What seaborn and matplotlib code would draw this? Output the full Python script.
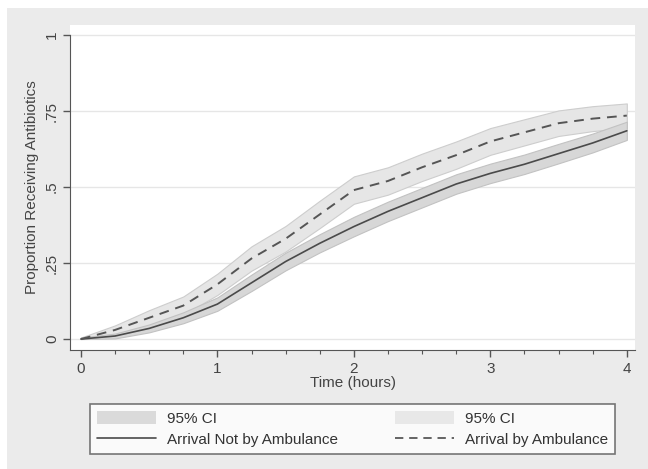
import pandas as pd
import seaborn as sns
import matplotlib.pyplot as plt
from matplotlib.patches import Patch, Rectangle
from matplotlib.lines import Line2D

# Values (time in hours, proportion receiving antibiotics)
hours = [0, 0.25, 0.5, 0.75, 1.0, 1.25, 1.5, 1.75, 2.0, 2.25, 2.5, 2.75, 3.0, 3.25, 3.5, 3.75, 4.0]

not_amb = [0, .01, .035, .07, .115, .185, .255, .315, .37, .42, .465, .51, .545, .575, .61, .645, .685]
not_amb_lo = [0, .002, .022, .052, .093, .158, .226, .285, .338, .388, .433, .478, .513, .543, .578, .614, .655]
not_amb_hi = [.005, .018, .048, .088, .137, .212, .284, .345, .402, .452, .497, .542, .577, .607, .642, .676, .715]

amb = [0, .03, .07, .11, .18, .265, .33, .41, .49, .52, .565, .605, .65, .68, .71, .725, .735]
amb_lo = [0, .015, .045, .08, .145, .225, .288, .365, .445, .475, .52, .56, .606, .637, .668, .684, .695]
amb_hi = [.005, .045, .095, .14, .215, .305, .372, .455, .535, .565, .61, .65, .694, .723, .752, .766, .775]

y_ticks = [0, 0.25, 0.5, 0.75, 1]
y_labels = ['0', '.25', '.5', '.75', '1']
x_ticks = [0, 1, 2, 3, 4]

df = pd.DataFrame({'hours': hours, 'not_amb': not_amb, 'amb': amb})

sns.set_style("white")
plt.rcParams['font.family'] = ['Liberation Sans', 'DejaVu Sans']

fig = plt.figure(figsize=(6.48, 4.69), dpi=100)
fig.patch.set_facecolor('white')
# gray graph region, leaving a thin white strip at top and left
fig.patches.append(Rectangle((7 / 648, 0), 1, 1 - 8 / 469, transform=fig.transFigure,
                             facecolor='#ebebeb', edgecolor='none', zorder=-10))

ax = fig.add_axes([70 / 648, 1 - 350 / 469, 565 / 648, 325 / 469])
ax.set_facecolor('white')

# confidence bands
ax.fill_between(hours, amb_lo, amb_hi, facecolor='#e6e6e6', edgecolor='#cdcdcd', linewidth=0.8, zorder=1)
ax.fill_between(hours, not_amb_lo, not_amb_hi, facecolor='#d7d7d7', edgecolor='#c2c2c2', linewidth=0.8, zorder=2)

sns.lineplot(data=df, x='hours', y='not_amb', ax=ax, color='#4a4a4a', linewidth=1.2, zorder=3)
sns.lineplot(data=df, x='hours', y='amb', ax=ax, color='#555555', linewidth=1.4, zorder=3)
ax.lines[-1].set_dashes([5, 3.5])

ax.set_xlim(-0.08, 4.06)
ax.set_ylim(-0.036, 1.033)

ax.set_yticks(y_ticks)
ax.set_yticklabels(y_labels, rotation=90, va='center')
ax.set_xticks(x_ticks)
ax.set_xticks([t for t in hours if t not in x_ticks], minor=True)

for y in y_ticks:
    ax.axhline(y, color='#e6e6e6', linewidth=1.0, zorder=0)

for side in ['top', 'right']:
    ax.spines[side].set_visible(False)
ax.spines['left'].set_bounds(-0.036, 1)
ax.spines['left'].set_color('#555555')
ax.spines['bottom'].set_color('#555555')

ax.tick_params(axis='both', which='major', direction='out', length=5, width=1,
               color='#555555', labelcolor='#444444', labelsize=11, left=True, bottom=True)
ax.tick_params(axis='x', which='minor', direction='out', length=3, width=0.8,
               color='#555555', bottom=True)
ax.tick_params(axis='y', pad=3)

ax.set_xlabel('Time (hours)', fontsize=11, color='#444444', labelpad=0)
ax.set_ylabel('Proportion Receiving Antibiotics', fontsize=11, color='#444444', labelpad=4)

handles = [
    Patch(facecolor='#dadada', edgecolor='none'),
    Line2D([], [], color='#4a4a4a', linewidth=1.2),
    Patch(facecolor='#e8e8e8', edgecolor='none'),
    Line2D([], [], color='#4a4a4a', linewidth=1.2, dashes=[5, 3.5]),
]
labels = ['95% CI', 'Arrival Not by Ambulance', '95% CI', 'Arrival by Ambulance']
leg = fig.legend(handles, labels, ncol=2, mode='expand',
                 bbox_to_anchor=(90 / 648, 15 / 469, 525 / 648, 52 / 469),
                 loc='lower left', frameon=True, fancybox=False, fontsize=11,
                 handlelength=3.9, handleheight=0.9, handletextpad=0.7,
                 borderpad=0.45, labelspacing=0.45, borderaxespad=0)
leg.get_frame().set_edgecolor('#555555')
leg.get_frame().set_linewidth(1.2)
for t in leg.get_texts():
    t.set_color('#333333')

fig.savefig('out.png', dpi=100)
